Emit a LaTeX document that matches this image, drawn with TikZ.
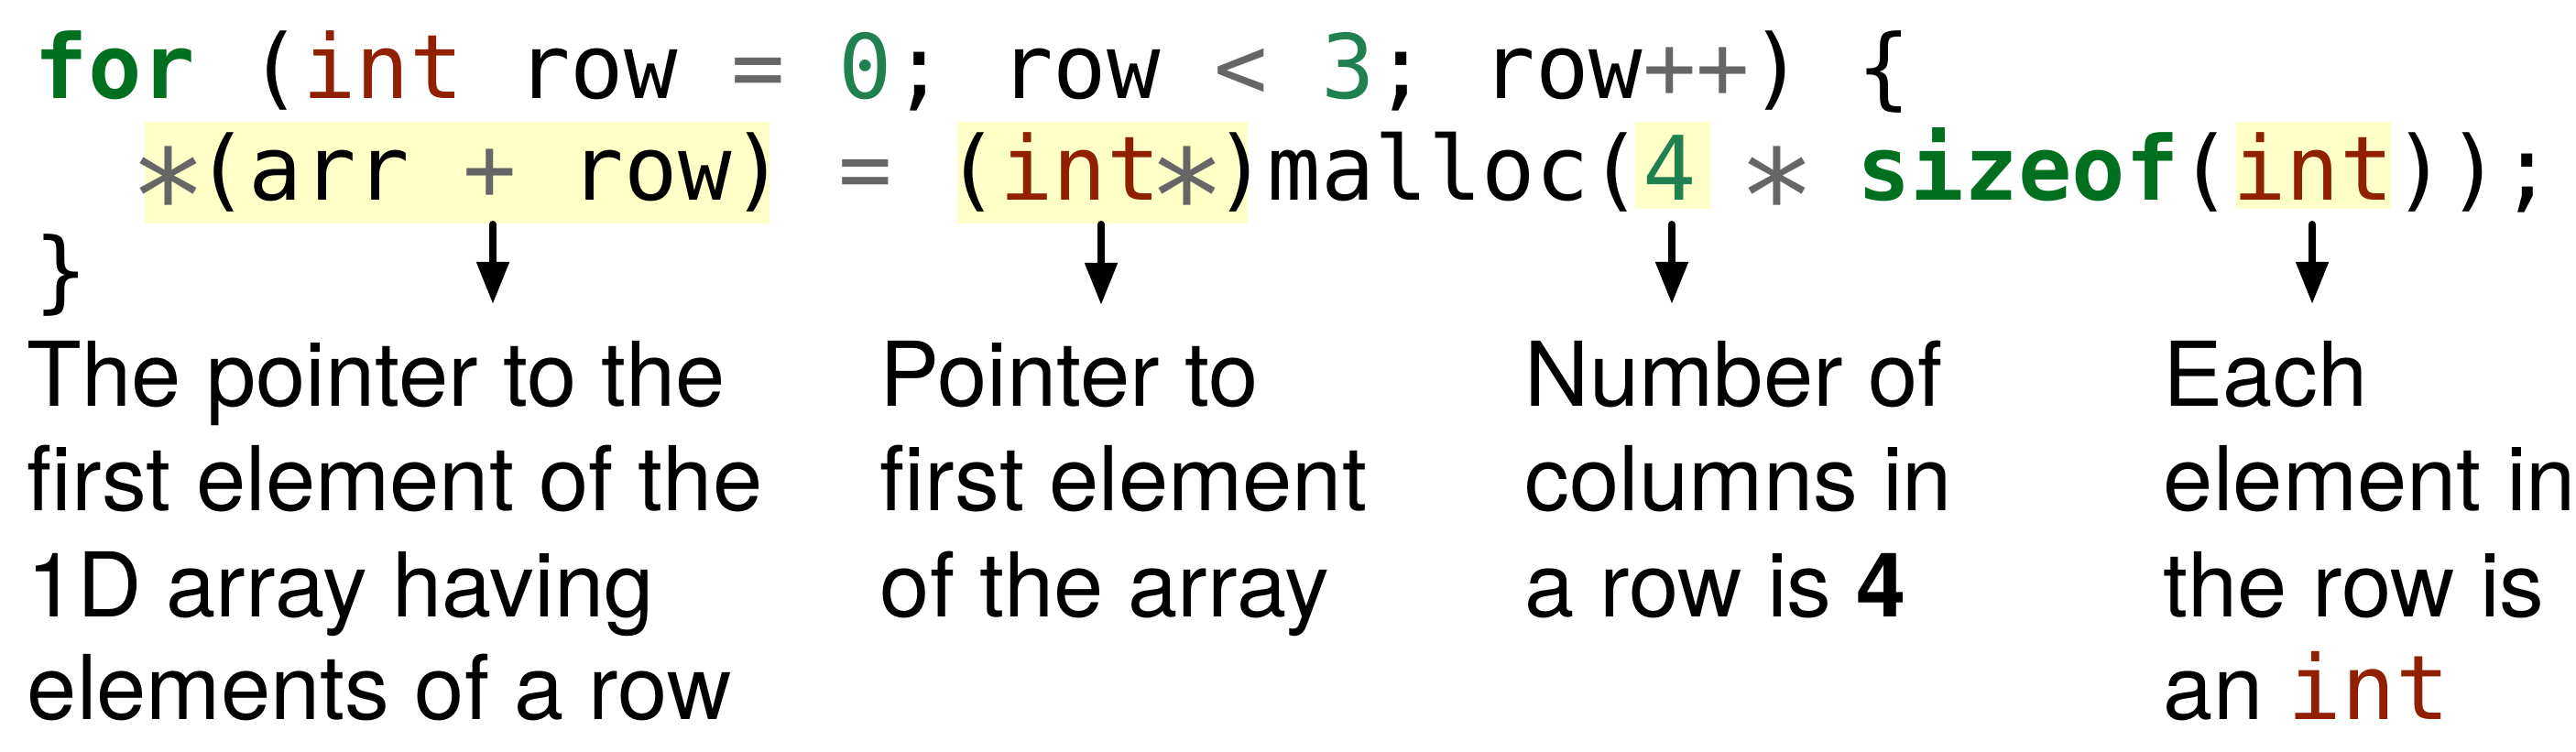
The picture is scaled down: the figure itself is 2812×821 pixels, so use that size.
\documentclass[tikz,border=0pt]{standalone}
\usepackage{fontspec}
\usepackage{graphicx}
\setmainfont{TeX Gyre Heros}
\setmonofont{DejaVu Sans Mono}
\usetikzlibrary{arrows.meta}
\definecolor{kwc}{RGB}{0,112,32}
\definecolor{tyc}{RGB}{144,32,0}
\definecolor{numc}{RGB}{32,128,80}
\definecolor{opc}{RGB}{102,102,102}
\definecolor{hlc}{RGB}{255,255,200}
\newcommand{\cKw}[1]{\textcolor{kwc}{\textbf{#1}}}
\newcommand{\cTy}[1]{\textcolor{tyc}{#1}}
\newcommand{\cNum}[1]{\textcolor{numc}{#1}}
\newcommand{\cOp}[1]{\textcolor{opc}{#1}}
\newcommand{\cStar}{\textcolor{opc}{\makebox[0.602em]{\raisebox{-0.47em}{\scalebox{1.45}{*}}}}}
\begin{document}
\begin{tikzpicture}[x=0.25pt,y=-0.25pt,
  code/.style={anchor=base west, inner sep=0pt, font=\fontsize{24.3pt}{28pt}\selectfont\ttfamily},
  desc/.style={anchor=base west, inner sep=0pt, font=\fontsize{24.4pt}{28pt}\selectfont},
  hl/.style={fill=hlc, draw=none, inner sep=0pt, anchor=north west},
  pointer/.style={line width=2pt, line cap=round, -{Triangle[length=11.5pt,width=8.5pt]}}]
\useasboundingbox (0,0) rectangle (2812,821);
% highlight boxes
\node[hl, minimum width=170.5pt, minimum height=27.75pt] (hl1) at (157,132) {};
\node[hl, minimum width=79.25pt, minimum height=27.75pt] (hl2) at (1044,132) {};
\node[hl, minimum width=20.5pt, minimum height=23.75pt] (hl3) at (1784,132) {};
\node[hl, minimum width=42.25pt, minimum height=23.75pt] (hl4) at (2440,132) {};
% code
\node[code] (code1) at (37,108) {\cKw{for} (\cTy{int} row \cOp{=} \cNum{0}; row \cOp{<} \cNum{3}; row\cOp{++}) \{};
\node[code] (code2) at (37,219) {\hphantom{xx}\cStar(arr \cOp{+} row) \cOp{=} (\cTy{int}\cStar)malloc(\cNum{4} \cStar{} \cKw{sizeof}(\cTy{int}));};
\node[code] (code3) at (37,330) {\}};
% descriptions
\node[desc] (d1a) at (29,444) {The pointer to the};
\node[desc] (d1b) at (29,558) {first element of the};
\node[desc] (d1c) at (29,673) {1D array having};
\node[desc] (d1d) at (29,785) {elements of a row};
\node[desc] (d2a) at (960,444) {Pointer to};
\node[desc] (d2b) at (960,558) {first element};
\node[desc] (d2c) at (960,673) {of the array};
\node[desc] (d3a) at (1664,444) {Number of};
\node[desc] (d3b) at (1664,558) {columns in};
\node[desc] (d3c) at (1664,673) {a row is \textbf{4}};
\node[desc] (d4a) at (2361,444) {Each};
\node[desc] (d4b) at (2361,558) {element in};
\node[desc] (d4c) at (2361,673) {the row is};
\node[desc] (d4d) at (2361,785) {an \textcolor{tyc}{\ttfamily int}};
% arrows
\coordinate (a1s) at (538,245); \coordinate (a1e) at (538,332);
\coordinate (a2s) at (1202,245); \coordinate (a2e) at (1202,333);
\coordinate (a3s) at (1825,245); \coordinate (a3e) at (1825,332);
\coordinate (a4s) at (2524,245); \coordinate (a4e) at (2524,332);
\draw[pointer] (a1s) -- (a1e);
\draw[pointer] (a2s) -- (a2e);
\draw[pointer] (a3s) -- (a3e);
\draw[pointer] (a4s) -- (a4e);
\end{tikzpicture}
\end{document}
